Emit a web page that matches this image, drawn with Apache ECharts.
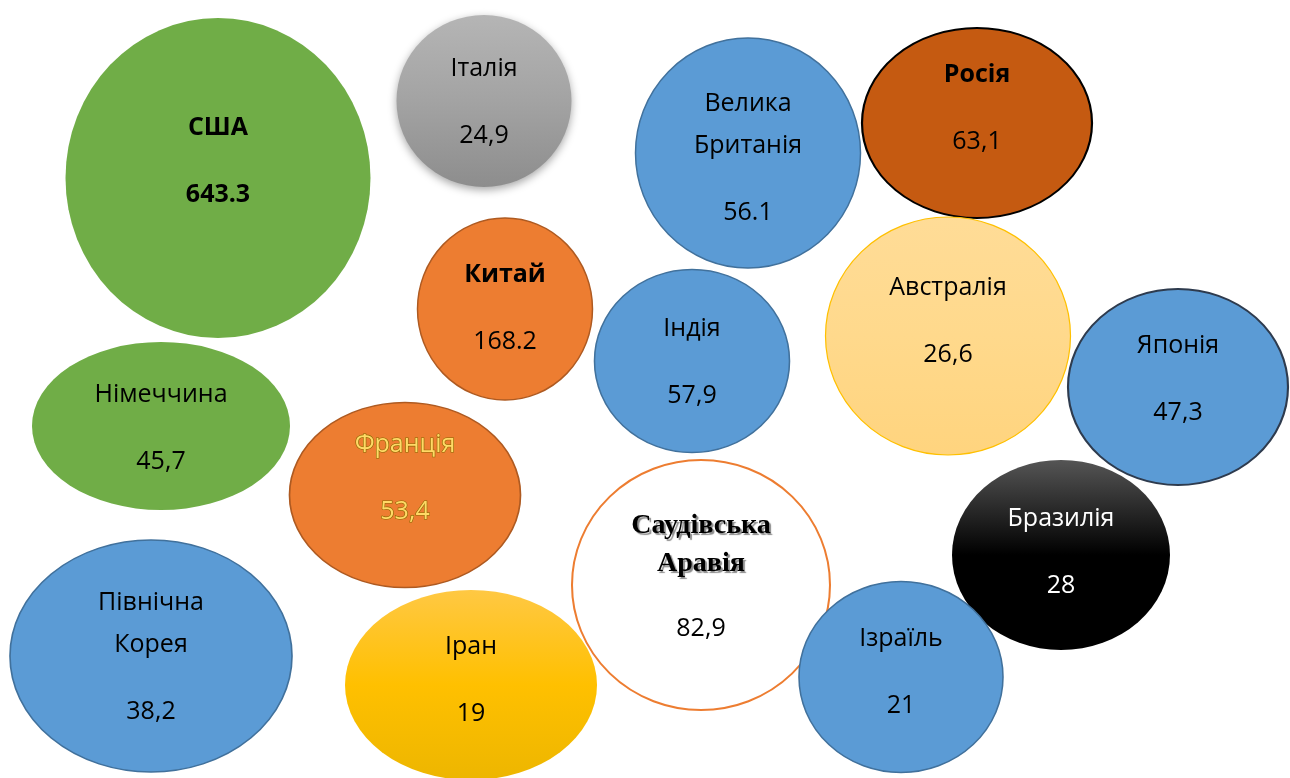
<!DOCTYPE html>
<html lang="uk">
<head>
    <meta charset="UTF-8">
    <title>Bubbles</title>
    <script src="https://cdn.jsdelivr.net/npm/echarts@6/dist/echarts.min.js"></script>
    <style>
        html, body { margin: 0; padding: 0; background: #fff; }
        #chart { width: 1290px; height: 778px; }
    </style>
</head>
<body>
<div id="chart"></div>
<script>
  // data
  var countries = ['США', 'Італія', 'Велика\nБританія', 'Росія', 'Китай', 'Індія', 'Австралія',
    'Німеччина', 'Франція', 'Північна\nКорея', 'Іран', 'Саудівська\nАравія', 'Бразилія', 'Японія', 'Ізраїль'];
  var valueLabels = ['643.3', '24,9', '56.1', '63,1', '168.2', '57,9', '26,6',
    '45,7', '53,4', '38,2', '19', '82,9', '28', '47,3', '21'];

  // layout of the bubbles (pixels of the picture)
  var centerX = [218, 484, 748, 977, 505, 692, 948, 161, 405, 151, 471, 701, 1061, 1178, 901];
  var centerY = [178, 101, 153, 123, 309, 361, 336, 426, 495, 656, 685, 585, 555, 387, 677];
  var widths  = [305, 175, 225, 230, 175, 195, 245, 258, 231, 282, 252, 258, 218, 220, 204];
  var heights = [320, 172, 230, 190, 182, 183, 238, 168, 185, 232, 190, 250, 190, 196, 191];
  var labelShift = [-17, 1, 5, -15, -1, 1, -15, 2, -17, 1, -5, -7, -3, -8, -5];

  var FONT = '"Open Sans", "Noto Sans", sans-serif';

  function grad(stops) {
    return {
      type: 'linear', x: 0, y: 0, x2: 0, y2: 1,
      colorStops: stops.map(function (c, i) { return { offset: i / (stops.length - 1), color: c }; })
    };
  }

  var blue = { color: '#5B9BD5', borderColor: '#41719C', borderWidth: 1.5, opacity: 1 };
  var green = { color: '#70AD47', borderWidth: 0, opacity: 1 };
  var orange = { color: '#ED7D31', borderColor: '#AE5A21', borderWidth: 1.5, opacity: 1 };

  var looks = [
    green,
    { color: grad(['#B5B5B5', '#A3A3A3', '#8D8D8D']), shadowBlur: 8, shadowColor: 'rgba(0,0,0,0.35)', shadowOffsetY: 3, opacity: 1 },
    blue,
    { color: '#C55A11', borderColor: '#000', borderWidth: 2, opacity: 1 },
    orange,
    blue,
    { color: grad(['#FFDC97', '#FFD98C', '#FFD47E']), borderColor: '#FFC000', borderWidth: 1.2, opacity: 1 },
    green,
    orange,
    blue,
    { color: grad(['#FFC843', '#FFC000', '#EDB600']), opacity: 1 },
    { color: '#FFFFFF', borderColor: '#ED7D31', borderWidth: 2, opacity: 1 },
    { color: grad(['#555555', '#000000', '#000000']), opacity: 1 },
    { color: '#5B9BD5', borderColor: '#2E3B4E', borderWidth: 2, opacity: 1 },
    blue
  ];

  var nameStyles = {
    'США': { fontWeight: 'bold', color: '#000' },
    'Росія': { fontWeight: 'bold', color: '#000' },
    'Китай': { fontWeight: 'bold', color: '#000' },
    'Франція': { color: '#FFD966', textBorderColor: '#8A6A00', textBorderWidth: 1.2 },
    'Бразилія': { color: '#FFFFFF' },
    'Саудівська\nАравія': {
      fontFamily: '"Liberation Serif", "DejaVu Serif", serif', fontWeight: 'bold', fontSize: 28,
      color: '#000', textShadowColor: 'rgba(0,0,0,0.45)', textShadowOffsetX: 2, textShadowOffsetY: 2, textShadowBlur: 1
    }
  };
  var valueStyles = {
    'США': { fontWeight: 'bold', color: '#000' },
    'Франція': { color: '#FFD966', textBorderColor: '#8A6A00', textBorderWidth: 1.2 },
    'Бразилія': { color: '#FFFFFF' }
  };

  function base(extra) {
    var s = { fontFamily: FONT, fontSize: 25, color: '#000', lineHeight: 40 };
    for (var k in extra) { s[k] = extra[k]; }
    return s;
  }

  var points = countries.map(function (name, i) {
    var ns = base(nameStyles[name] || {});
    ns.lineHeight = name.indexOf('Саудівська') === 0 ? 38 : 42;
    return {
      name: name,
      value: [centerX[i], centerY[i]],
      symbolSize: [widths[i], heights[i]],
      itemStyle: looks[i],
      label: {
        show: true,
        position: 'inside',
        opacity: 1,
        offset: [0, labelShift[i]],
        formatter: name.split('\n').map(function (s) { return '{n|' + s + '}'; }).join('\n') +
          '\n{g| }\n{v|' + valueLabels[i] + '}',
        rich: {
          n: ns,
          g: { fontSize: 10, lineHeight: 26 },
          v: base(valueStyles[name] || {})
        }
      }
    };
  });

  var myChart = echarts.init(document.getElementById('chart'));

  myChart.setOption({
    animation: false,
    grid: { left: 0, right: 0, top: 0, bottom: 0 },
    xAxis: { type: 'value', min: 0, max: 1290, show: false },
    yAxis: { type: 'value', min: 0, max: 778, inverse: true, show: false },
    series: [
      {
        type: 'scatter',
        symbol: 'circle',
        silent: true,
        itemStyle: { opacity: 1 },
        data: points
      }
    ]
  });
</script>
</body>
</html>
